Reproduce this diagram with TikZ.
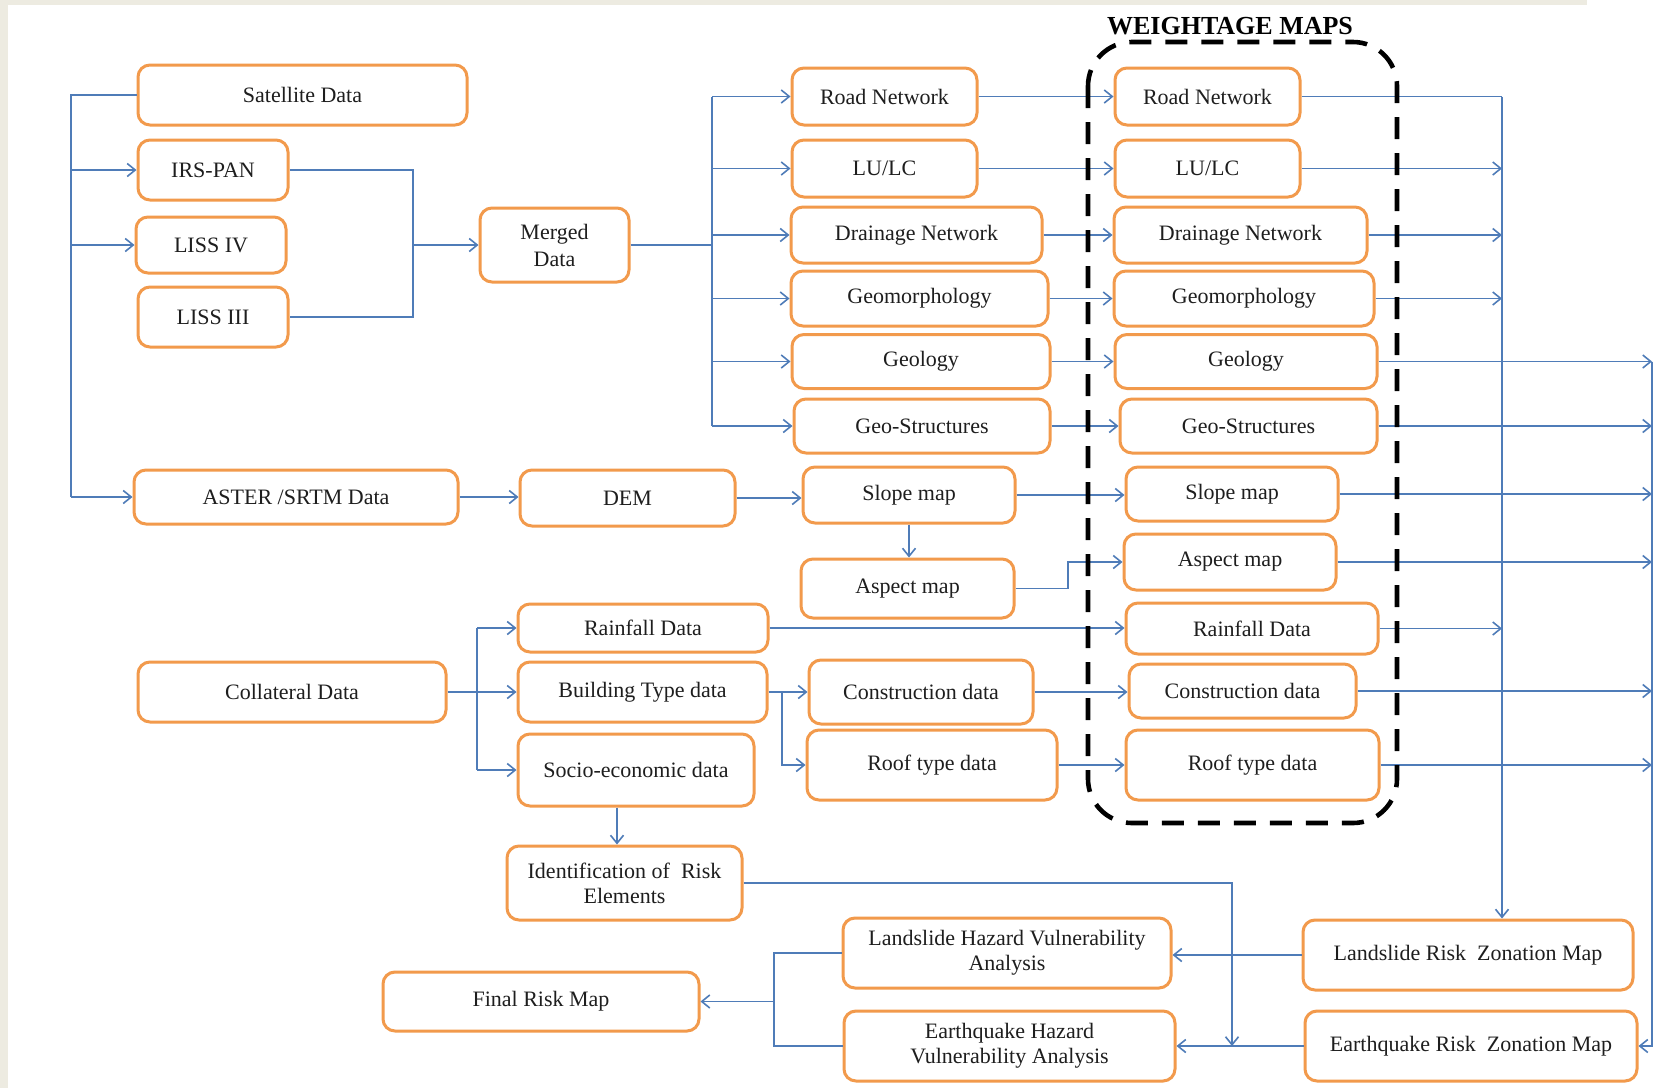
\documentclass[tikz,border=0pt]{standalone}
\usepackage{fontspec}
\setmainfont{Liberation Serif}
\usetikzlibrary{arrows.meta}
\definecolor{linec}{HTML}{4F7CB8}
\definecolor{boxc}{HTML}{F29A4C}
\definecolor{beigec}{HTML}{EDEBE1}
\definecolor{txtc}{HTML}{1E1E1E}
\begin{document}
\begin{tikzpicture}[x=0.5pt,y=-0.5pt,
  bx/.style={draw=boxc, line width=1.5pt, rounded corners=6pt, fill=white, align=center,
    text=txtc, font=\fontsize{11}{12.5}\selectfont, inner sep=2pt},
  wh/.style 2 args={minimum width=#1*0.5pt, minimum height=#2*0.5pt},
  ln/.style={draw=linec, line width=0.8pt},
  arr/.style={ln, -{Straight Barb[length=4pt,width=6.5pt]}},
  wbox/.style={draw=black, line width=2.3pt, dash pattern=on 11pt off 7pt, rounded corners=22pt}]
\useasboundingbox (0,0) rectangle (1675,1088);
\fill[white] (0,0) rectangle (1675,1088);
\fill[beigec] (0,0) rectangle (8,1088);
\fill[beigec] (0,0) rectangle (1587,5);

% left part
\node[bx, wh={329}{60}] (sat) at (302.5,95) {Satellite Data};
\node[bx, wh={150}{60}] (irs) at (213,170) {IRS-PAN};
\node[bx, wh={150}{56}] (liss4) at (211,245) {LISS IV};
\node[bx, wh={150}{60}] (liss3) at (213,317) {LISS III};
\node[bx, wh={149}{74}, font=\fontsize{11}{13.5}\selectfont] (merged) at (554.5,245) {Merged\\Data};
\node[bx, wh={324}{54}] (aster) at (296,497) {ASTER /SRTM Data};
\node[bx, wh={215}{56}] (dem) at (627.5,498) {DEM};

% first column
\node[bx, wh={185}{57}] (road1) at (884.5,96.5) {Road Network};
\node[bx, wh={185}{57}] (lulc1) at (884.5,168.5) {LU/LC};
\node[bx, wh={251}{56}] (drain1) at (916.5,235) {Drainage Network};
\node[bx, wh={257}{55}] (geom1) at (919.5,298.5) {Geomorphology};
\node[bx, wh={258}{54}] (geol1) at (921,361.5) {Geology};
\node[bx, wh={256}{54}] (geos1) at (922,426) {Geo-Structures};
\node[bx, wh={212}{56}] (slope1) at (909,495) {Slope map};
\node[bx, wh={213}{59}] (aspect1) at (907.5,588.5) {Aspect map};

% weightage column
\node[bx, wh={185}{57}] (road2) at (1207.5,96.5) {Road Network};
\node[bx, wh={185}{57}] (lulc2) at (1207.5,168.5) {LU/LC};
\node[bx, wh={253}{56}] (drain2) at (1240.5,235) {Drainage Network};
\node[bx, wh={260}{55}] (geom2) at (1244,298.5) {Geomorphology};
\node[bx, wh={262}{54}] (geol2) at (1246,361.5) {Geology};
\node[bx, wh={257}{54}] (geos2) at (1248.5,426) {Geo-Structures};
\node[bx, wh={212}{54}] (slope2) at (1232,494) {Slope map};
\node[bx, wh={212}{56}] (aspect2) at (1230,562) {Aspect map};
\node[bx, wh={252}{51}] (rain2) at (1252,628.5) {Rainfall Data};
\node[bx, wh={227}{54}] (cons2) at (1242.5,691) {Construction data};
\node[bx, wh={253}{70}] (roof2) at (1252.5,765) {Roof type data};

% collateral part
\node[bx, wh={308}{60}] (coll) at (292,692) {Collateral Data};
\node[bx, wh={250}{48}] (rain1) at (643,628) {Rainfall Data};
\node[bx, wh={249}{60}] (build) at (642.5,692) {Building Type data};
\node[bx, wh={236}{72}] (socio) at (636,770) {Socio-economic data};
\node[bx, wh={224}{64}] (cons1) at (921,692) {Construction data};
\node[bx, wh={250}{70}] (roof1) at (932,765) {Roof type data};
\node[bx, wh={235}{74}] (ident) at (624.5,883) {Identification of~ Risk\\Elements};

% bottom part
\node[bx, wh={316}{59}] (final) at (541,1001.5) {Final Risk Map};
\node[bx, wh={328}{70}] (lhva) at (1007,953) {Landslide Hazard Vulnerability\\Analysis};
\node[bx, wh={331}{70}] (ehva) at (1009.5,1046) {Earthquake Hazard\\Vulnerability Analysis};
\node[bx, wh={330}{70}] (lrzm) at (1468,955) {Landslide Risk~ Zonation Map};
\node[bx, wh={332}{70}] (erzm) at (1471,1046) {Earthquake Risk~ Zonation Map};

\node[font=\bfseries\fontsize{13}{15}\selectfont, inner sep=0pt, text=black] (title) at (1230,26) {WEIGHTAGE MAPS};

% bus coordinates
\coordinate (lb) at (71,0);
\coordinate (mb) at (413,0);
\coordinate (rb) at (712,0);
\coordinate (ae) at (1068,0);
\coordinate (cb) at (477,0);
\coordinate (bb) at (782,0);
\coordinate (sd) at (617,0);
\coordinate (rb2) at (1502,0);
\coordinate (rb3) at (1652,0);
\coordinate (ib) at (1232,0);
\coordinate (fb) at (774,0);

% left bus
\draw[ln] (sat.west) -| (lb |- aster.west);
\draw[arr] (lb |- irs.west) -- (irs.west);
\draw[arr] (lb |- liss4.west) -- (liss4.west);
\draw[arr] (lb |- aster.west) -- (aster.west);

% merge
\draw[ln] (irs.east) -| (mb |- liss3.east) -- (liss3.east);
\draw[arr] (mb |- merged.west) -- (merged.west);

% distribution bus
\draw[ln] (merged.east) -- (rb |- merged.east);
\draw[ln] (rb |- road1.west) -- (rb |- geos1.west);
\foreach \n in {road1,lulc1,drain1,geom1,geol1,geos1}
  \draw[arr] (rb |- \n.west) -- (\n.west);

% to weightage maps
\draw[arr] (road1.east) -- (road2.west);
\draw[arr] (lulc1.east) -- (lulc2.west);
\draw[arr] (drain1.east) -- (drain2.west);
\draw[arr] (geom1.east) -- (geom2.west);
\draw[arr] (geol1.east) -- (geol2.west);
\draw[arr] (geos1.east) -- (geos2.west);
\draw[arr] (slope1.east) -- (slope1.east -| slope2.west);
\draw[arr] (aspect1.east) -| (ae |- aspect2.west) -- (aspect2.west);
\draw[arr] (rain1.east) -- (rain1.east -| rain2.west);
\draw[arr] (cons1.east) -- (cons1.east -| cons2.west);
\draw[arr] (roof1.east) -- (roof2.west);

% DEM chain
\draw[arr] (aster.east) -- (aster.east -| dem.west);
\draw[arr] (dem.east) -- (dem.east -| slope1.west);
\draw[arr] (slope1.south) -- (slope1.south |- aspect1.north);

% collateral
\draw[ln] (coll.east) -- (cb |- coll.east);
\draw[ln] (cb |- rain1.west) -- (cb |- socio.west);
\foreach \n in {rain1,build,socio}
  \draw[arr] (cb |- \n.west) -- (\n.west);
\draw[arr] (build.east) -- (cons1.west);
\draw[arr] (bb |- build.east) |- (roof1.west);
\draw[arr] (sd |- socio.south) -- (sd |- ident.north);

% right buses
\draw[ln] (road2.east) -- (rb2 |- road2.east);
\draw[arr] (rb2 |- road2.east) -- (rb2 |- lrzm.north);
\foreach \n in {lulc2,drain2,geom2,rain2}
  \draw[arr] (\n.east) -- (rb2 |- \n.east);
\draw[arr] (rb3 |- geol2.east) |- (erzm.east);
\foreach \n in {geol2,geos2,slope2,aspect2,cons2,roof2}
  \draw[arr] (\n.east) -- (rb3 |- \n.east);

% bottom
\draw[arr] (lrzm.west) -- (lrzm.west -| lhva.east);
\draw[arr] (erzm.west) -- (erzm.west -| ehva.east);
\draw[arr] (ident.east) -| (ib |- erzm.west);
\draw[ln] (lhva.west) -| (fb |- ehva.west) -- (ehva.west);
\draw[arr] (fb |- final.east) -- (final.east);

% weightage frame
\draw[wbox] (1088,42) rectangle (1397,823);
\end{tikzpicture}
\end{document}
